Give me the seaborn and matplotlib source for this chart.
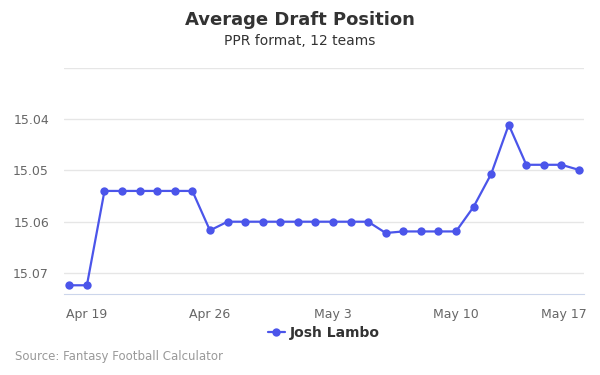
import pandas as pd
import numpy as np
from matplotlib import pyplot as plt
import matplotlib.dates as mdates
import matplotlib.transforms as mtransforms
import seaborn as sns

dates = pd.date_range("2019-04-18", "2019-05-17", freq="D")
adp = [15.0724, 15.0724, 15.054, 15.054, 15.054, 15.054, 15.054, 15.054,
       15.0617, 15.06, 15.06, 15.06, 15.06, 15.06, 15.06, 15.06, 15.06, 15.06,
       15.0622, 15.0619, 15.0619, 15.0619, 15.0619, 15.0571, 15.0507, 15.0411,
       15.0489, 15.0489, 15.0489, 15.0499]
player = "Josh Lambo"
y_ticks = [15.03, 15.04, 15.05, 15.06, 15.07]
y_labels = ["", "15.04", "15.05", "15.06", "15.07"]
x_ticks = pd.to_datetime(["2019-04-19", "2019-04-26", "2019-05-03", "2019-05-10", "2019-05-17"])

df = pd.DataFrame({"date": dates, "adp": adp, "player": player})

sns.set_style("white")
plt.rcParams["font.family"] = ["DejaVu Sans"]
line_color = "#4b55ea"

fig = plt.figure(figsize=(6, 3.75), dpi=100)
ax = fig.add_axes([0.107, 0.216, 0.866, 0.603])
sns.lineplot(data=df, x="date", y="adp", hue="player", palette=[line_color],
             marker="o", markersize=6, markeredgewidth=0, linewidth=1.6, ax=ax)

ax.set_ylim(15.0741, 15.03)
ax.set_yticks(y_ticks)
ax.set_yticklabels(y_labels)
ax.set_xlim(pd.Timestamp("2019-04-17 17:00"), pd.Timestamp("2019-05-17 06:30"))
ax.set_xticks(x_ticks)
ax.xaxis.set_major_formatter(mdates.DateFormatter("%b %-d"))
ax.grid(axis="y", color="#e6e6e6", linewidth=1)
ax.set_xlabel("")
ax.set_ylabel("")
for side in ["top", "right", "left"]:
    ax.spines[side].set_visible(False)
ax.spines["bottom"].set_color("#ccd6eb")
ax.tick_params(axis="x", colors="#ccd6eb", length=8, width=1, labelcolor="#666666", labelsize=9, pad=2)
ax.tick_params(axis="y", length=0, labelcolor="#666666", labelsize=9, pad=11)

# keep the last date label inside the figure
fig.canvas.draw()
last = ax.get_xticklabels()[-1]
last.set_transform(last.get_transform() + mtransforms.ScaledTranslation(-15 / 100, 0, fig.dpi_scale_trans))

leg = ax.legend(loc="upper center", bbox_to_anchor=(0.5, -0.085), frameon=False,
                handlelength=1.2, handletextpad=0.4, prop={"weight": "bold", "size": 10})
for t in leg.get_texts():
    t.set_color("#333333")

fig.text(0.5, 0.947, "Average Draft Position", ha="center", va="center",
         fontsize=13, fontweight="bold", color="#333333")
fig.text(0.5, 0.89, "PPR format, 12 teams", ha="center", va="center",
         fontsize=10, color="#333333")
fig.text(0.025, 0.05, "Source: Fantasy Football Calculator", ha="left", va="center",
         fontsize=8.5, color="#999999")

fig.savefig("out.png", dpi=100)
